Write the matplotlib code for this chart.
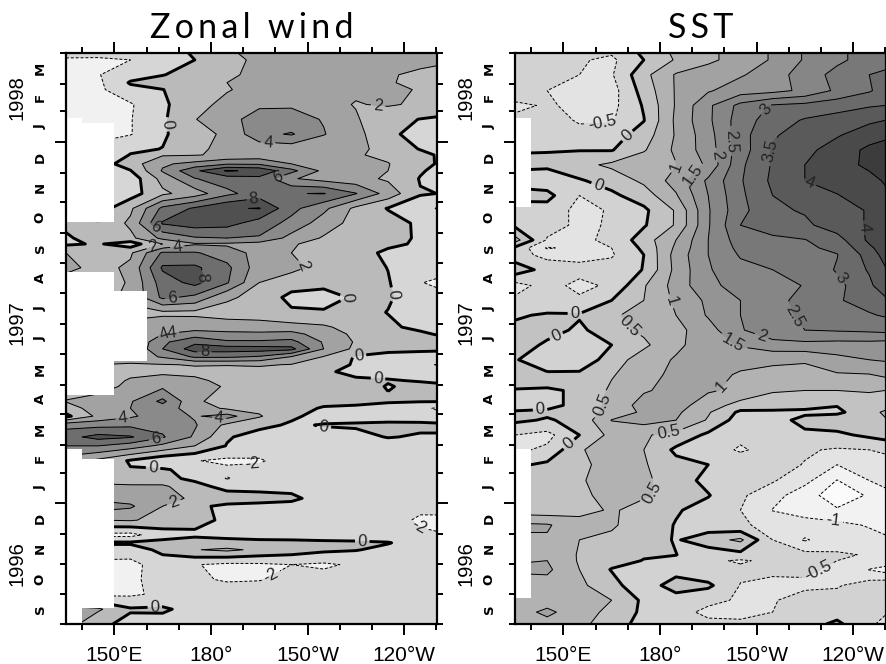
import numpy as np
import matplotlib
matplotlib.use("Agg")
import matplotlib.pyplot as plt
from matplotlib.patches import Rectangle

# longitude in degrees east, time in days since 1 Sep 1996
lons = [135, 145, 155, 165, 175, 185, 195, 205, 215, 225, 235, 245, 250]

wind_days = [0, 15, 30, 45, 60, 75, 82, 90, 105, 119, 127, 139, 147, 156, 165, 180, 189, 201,
             210, 218, 225, 240, 246, 255, 262, 270, 278, 285, 293, 300, 315, 330, 345, 360,
             375, 384, 390, 405, 420, 435, 450, 458, 465, 474, 480, 495, 510, 525, 540, 547,
             555, 570, 577]

wind = [
    [3, .5, -.6, -.8, -1, -1, -1, -1, -1, -1, -1, -1, -1],
    [3, 2.3, .2, .3, -.7, -1.2, -1, -1, -1, -1, -1, -1, -1],
    [-2.5, -2.5, -2.3, -1.6, -1, -1, -1, -1, -1, -1, -1, -1.4, -1.8],
    [-2.5, -2.5, -2.5, -1, -1.7, -2.2, -2.1, -1.5, -1.3, -1.2, -1.1, -1, -1],
    [-2.5, -2.5, -2.6, -1, -1.9, -2.4, -2.3, -2, -2.3, -1.7, -1.2, -1, -1],
    [-1, -1, -1, .5, 1.9, 2.4, 1.6, 1, .4, .1, -.5, -1, -1],
    [.3, .3, .3, .6, .8, .6, .7, .6, .4, .3, .1, -.8, -1],
    [-2.5, -2.5, -2.6, -.9, -.3, -.5, -1, -1, -1, -1, -1, -1.7, -1.9],
    [2, 2, 2.2, 1.3, .5, -.3, -.9, -1.2, -1.1, -1.1, -1.2, -2.3, -2.3],
    [5, 5, 4.3, 2, .3, -.3, -.5, -.6, -.7, -.8, -.9, -1.5, -1.5],
    [3.5, 3.5, 3.2, 2.8, 1.6, .8, .7, .4, -.8, -1, -1, -1, -1],
    [2.5, 2.5, 2.4, 2.4, .5, -.5, -.6, -.6, -.8, -1, -1, -1, -1],
    [1, 1, .5, .4, -.3, -2.1, -1.2, -1, -1, -1, -1, -1, -1],
    [1, 1, .1, .2, -.6, -1.6, -1.5, -1, -1, -1, -1, -1, -1],
    [3, 1.5, -.2, -1.5, -1.9, -2.4, -2.2, -1.2, -1, -1, -1, -1, -1],
    [6, 6, 5, 3.5, 2, -.1, -1, -1.2, -1, -1, -1, -1, -1],
    [7.3, 8.7, 8.2, 6.2, 3.7, .2, -.8, -1, -.7, -.6, .1, -.2, -.2],
    [5.3, 5.4, 5.6, 5.4, 4.2, 1.5, .5, -.25, .1, .25, .4, .4, .4],
    [-.5, 2.5, 3.7, 5, 3.8, 4.8, 2.2, .3, -.6, -.8, -.8, -.9, -1.3],
    [1, 3, 4, 5, 3, 1.7, 1.5, 1.2, -.3, -.4, -.8, -1.5, -2.2],
    [2.1, 3, 3.8, 6.5, 2.2, 1.5, 1.6, 1.3, .9, .5, .2, .1, .1],
    [1, 1, 2.6, 3.6, 2.8, 1.8, 1.2, 1, .8, .7, -.1, .4, .4],
    [1, 1, 2.2, 2.4, 2.3, 1.6, 1.2, .9, .5, .3, .1, -.1, -.3],
    [1, 1, 1.5, 1.8, 1.6, 1.3, 1.4, 1.3, .3, -.5, -.5, -.7, -.8],
    [2, 2, 1.8, 1.9, 2.1, 2.1, 2.2, 1.9, .9, -.2, -.5, -1.2, -2.1],
    [3, 3, 2.9, 4.2, 6.3, 6.3, 5.8, 3.9, 1.9, -.2, -.6, -1, -1],
    [3, 3, 1.8, 6, 9, 9, 8.9, 8.6, 4, 1.5, .5, .5, .4],
    [2, 2, 1.8, 5.6, 7.5, 6.3, 6.3, 6.6, 3.8, 1.8, .8, .8, .8],
    [2, 2, 2, 4, 5, 4.6, 4.5, 4.7, 3, 1.6, 1, .3, -.1],
    [2.3, 2.3, 2.3, 2.8, 3, 2.8, 2.7, 2.7, 2.3, 1.2, .3, -.4, -.8],
    [1.5, 1.5, 1.7, 1.7, 1.6, 1.3, 1.2, .3, .2, .6, -.05, -.8, -1],
    [1.5, 1.5, 2.3, 6.4, 5.5, 2.3, 1.4, -.6, -.8, .3, .2, -1, -1.2],
    [1, 1, 2.2, 7, 8.6, 6.2, 2, 1, .6, 1, .15, -1.9, -2.4],
    [2.6, 1.3, 2.4, 8.3, 8.4, 6.5, 2.9, 2.5, 1.3, 1, -.05, -.8, -.9],
    [2, 1.2, 1.7, 6.3, 6.2, 5, 3.3, 2, 1.4, .6, -.3, -1, -1.1],
    [-.3, .2, -1, 2, 3.8, 3.7, 3.2, 2.2, 1.3, .9, .3, -.2, -.5],
    [-.3, 1, 1.5, 4.5, 5.8, 6, 5.8, 3.3, 1.8, .9, .8, -.3, -.6],
    [.5, .2, 2.4, 8.2, 9, 8.7, 7.1, 5.4, 3, 1.3, .7, -.3, -.3],
    [-1, -1, 1.6, 6.5, 8.3, 9.8, 10.1, 6.6, 4.5, 1.5, -.1, -.7, -2.1],
    [-2, -2, -.9, 1.6, 3, 5.5, 7, 7.9, 8.1, 6.1, 3.2, .1, 0],
    [-2, -2, -1.2, 2.7, 5.9, 7, 7.4, 4.2, 3.2, 2.7, 1.7, -.1, -.5],
    [-2, -2, -.1, 4.2, 7.6, 10.2, 9.6, 6.6, 3.5, 2.5, 2, .2, -.4],
    [-1, -1, 1, 3.7, 4.6, 5.8, 5.7, 4, 2.6, 2.3, 2.1, .4, -.05],
    [-2, -2, .1, 1.8, 1.9, 2.3, 2.7, 2.6, 2.4, 2.2, 1.5, .6, -.1],
    [-1, -1, -.4, .05, 1.7, 2.4, 2.7, 2.8, 2.7, 2.5, 1.3, -.1, -.6],
    [-3, -3, -2.1, -.3, 1.4, 2.3, 5.4, 6.2, 4.1, 2.7, .3, -.5, -.7],
    [-3, -3, -2.1, -.3, 1.9, 3.6, 4.5, 4.6, 3.9, 2.2, .6, -.05, -.3],
    [-3, -3, -2.2, -.4, 1.5, 2.4, 3.8, 3.8, 2.6, 1.9, 2.2, 1.7, 1.5],
    [-2.4, -2.4, -.6, -.05, 1.2, 1.9, 2.5, 2.7, 2.4, 2.3, 2.3, 1.9, 1.5],
    [-3, -2.4, .2, 1.1, 1.5, 2, 2.4, 2.6, 2.4, 2.3, 2.1, 1.7, 1.5],
    [-3, -2.1, -.8, -.1, 1, 1.8, 2.3, 2.3, 2.3, 2.2, 2.1, 1.8, 1.7],
    [-2.2, -2.2, -2, -1, 0, 1.7, 2.2, 2.5, 2.5, 2.5, 2.5, 2.3, 2.2],
    [-1.5, -1.6, -1.5, -.8, .2, 1.9, 2.2, 2.5, 2.7, 2.6, 2.5, 2.3, 2.2],
]

sst_days = [0, 12, 24, 39, 55, 64, 70, 85, 100, 115, 130, 145, 161, 176, 191, 206, 214, 221,
            236, 252, 267, 282, 297, 312, 327, 342, 358, 373, 380, 388, 403, 418, 433, 448,
            464, 479, 494, 509, 524, 539, 555, 570, 577]

sst = [
    [.8, .85, .65, .2, -.15, -.3, -.4, -.4, -.35, -.2, .1, -.4, -.65],
    [.8, 1.1, .75, .35, -.1, -.35, -.6, -.65, -.5, -.3, -.2, -.3, -.45],
    [.7, .8, .75, .5, -.1, -.35, -.4, -.55, -.52, -.4, -.3, -.1, -.05],
    [.7, .8, .6, .2, -.4, .35, .1, -.52, -.6, -.55, -.55, -.25, -.15],
    [1.1, 1.1, .5, -.03, -.15, -.3, -.4, -.4, -.42, -.45, -.55, -1.02, -1.2],
    [.95, 1, .45, .2, -.02, -.1, -.4, -.56, -.38, -.38, -.5, -.6, -.65],
    [.8, .95, .45, .3, .05, .01, -.3, -.15, -.35, -.35, -.45, -.53, -.6],
    [.9, .95, .5, .42, .3, -.05, .3, .6, -.5, -1.05, -.7, -.8, -.95],
    [1.1, 1.05, .7, .55, .3, -.03, -.3, -.45, -.6, -.7, -.85, -1.05, -1.1],
    [.25, .2, .35, .55, .35, .05, -.2, -.5, -1.02, -1.3, -1.45, -1.2, -1.05],
    [.05, .1, .4, .65, .55, .35, .03, -.42, -.8, -1.3, -1.75, -1.45, -1.15],
    [.1, .15, .45, .7, .6, .25, -.15, -.35, -.45, -.85, -1.52, -1, -.85],
    [-.1, .1, .35, .75, .55, .15, 0, -.25, -.35, -.52, -1, -.9, -.75],
    [-.6, -.4, .45, .75, .5, -.1, -.3, -.55, -.35, -.45, -.55, -.5, -.4],
    [-.5, -.65, 0, .65, .55, .35, -.1, -.4, -.4, -.1, -.1, .1, .2],
    [.1, -.05, .15, 1.02, 1.2, 1, .45, -.25, -.2, .15, .3, .4, .45],
    [.05, .1, .25, .65, 1.1, 1.1, .55, -.1, -.08, -.1, -.1, .3, .6],
    [-.2, -.15, .15, .65, 1.2, 1.2, .75, .3, .2, .15, .02, .2, .25],
    [-.02, -.02, .02, .6, .95, 1.15, 1.05, .9, .55, .5, .5, .55, .5],
    [.2, .1, .1, .45, .85, 1.1, 1.15, .95, .85, .85, .95, .98, 1.1],
    [.05, -.4, -.35, .25, .75, 1.05, 1.2, 1.15, 1.1, 1.05, 1.35, 1.5, 1.55],
    [.3, -.1, -.35, 0, .4, .9, 1.25, 1.55, 1.8, 1.85, 1.8, 1.8, 1.75],
    [.1, .2, -.1, .3, .6, .85, 1.3, 1.95, 2.35, 2.5, 2.55, 2.6, 2.65],
    [-.05, .05, .05, .4, .75, 1, 1.55, 2, 2.3, 2.6, 2.85, 2.95, 3.05],
    [-.4, -.3, -.4, 0, .5, 1.1, 1.6, 2, 2.35, 2.65, 2.95, 3.2, 3.4],
    [-.7, -.3, -.65, -.4, .45, 1.2, 1.9, 2.15, 2.35, 2.52, 2.85, 3.4, 3.8],
    [.3, -.2, -.3, -.3, .02, 1.15, 1.95, 2.35, 2.5, 2.6, 3.05, 3.55, 3.95],
    [-.3, -.65, -.7, -.55, 0, 1.2, 2, 2.55, 2.7, 2.85, 2.98, 3.7, 4.2],
    [-.1, -1.05, -.85, -.5, .1, 1.1, 2, 2.65, 2.8, 2.92, 3.1, 3.9, 4.25],
    [.7, -.55, -.6, -.4, .25, 1, 2, 2.75, 2.93, 2.98, 3.3, 4.1, 4.3],
    [-.1, -.3, -.6, -.45, -.05, .55, 1.95, 3, 3.15, 3.4, 3.75, 4.05, 4.2],
    [-.3, -.2, -.65, -.45, -.1, .55, 1.95, 2.85, 3.4, 3.55, 3.75, 4.05, 4.15],
    [.2, .15, -.5, -.1, .25, .95, 2, 2.9, 3.5, 3.75, 3.98, 4.2, 4.4],
    [-.2, -.3, -.05, .2, .6, 1.2, 2.1, 2.95, 3.6, 4, 4.15, 4.35, 4.55],
    [.1, .1, .35, .6, .85, .98, 1.6, 2.9, 3.55, 4, 4.3, 4.6, 4.8],
    [-.03, -.02, -.02, -.03, .45, 1.1, 1.75, 2.75, 3.55, 3.85, 4.25, 4.6, 4.7],
    [-.5, -.4, -.35, -.25, .25, 1.05, 1.8, 2.8, 3.45, 3.7, 3.95, 4.3, 4.4],
    [-.4, -.3, -.55, -.55, -.02, 1.1, 1.9, 2.75, 3.25, 3.55, 3.7, 3.9, 4],
    [-.6, -.45, -.6, -.65, .05, 1.05, 1.9, 2.65, 3.05, 3.15, 3.3, 3.45, 3.5],
    [-.2, -.5, -.7, -.7, .2, 1.05, 1.45, 1.75, 1.85, 2.1, 2.6, 2.95, 3.2],
    [-.2, -.3, -.5, -.55, .35, 1.05, 1.25, 1.45, 1.75, 2.25, 2.65, 3, 3.1],
    [-.2, -.2, -.45, -.6, 0, .55, .9, 1.2, 1.55, 2.05, 2.4, 2.7, 2.8],
    [-.2, -.2, -.4, -.45, .1, .6, .9, 1.2, 1.55, 2.05, 2.4, 2.7, 2.8],
]

wind_levels = [-2, 0, 2, 4, 6, 8, 10]
wind_fill = [-20, -2, 0, 2, 4, 6, 8, 10, 20]
wind_grays = ["#f1f1f1", "#d6d6d6", "#bababa", "#a2a2a2", "#8a8a8a", "#6e6e6e", "#505050", "#3a3a3a"]

sst_levels = [-1.5, -1, -.5, 0, .5, 1, 1.5, 2, 2.5, 3, 3.5, 4, 4.5]
sst_fill = [-5, -1.5, -1, -.5, 0, .5, 1, 1.5, 2, 2.5, 3, 3.5, 4, 4.5, 9]
sst_grays = ["#fbfbfb", "#f2f2f2", "#e3e3e3", "#d2d2d2", "#c2c2c2", "#b2b2b2", "#a2a2a2", "#949494",
             "#868686", "#787878", "#6a6a6a", "#5a5a5a", "#4a4a4a", "#3c3c3c"]

# blocks with no data: lon0, lon1, day0, day1
wind_missing = [(135, 140, 406, 511), (135, 140, 231, 356), (135, 140, 0, 177),
                (140, 150, 406, 506), (140, 150, 231, 356), (140, 150, 16, 167),
                (150, 160, 266, 336)]
sst_missing = [(135, 140, 421, 511), (135, 140, 26, 177)]

# month starts, axis runs 1 Sep 1996 - 1 Apr 1998
month_ticks = [0, 30, 61, 91, 122, 153, 181, 212, 242, 273, 303, 334, 365, 395, 426, 456, 487, 518, 546, 577]
month_names = ["S", "O", "N", "D", "J", "F", "M", "A", "M", "J", "J", "A", "S", "O", "N", "D", "J", "F", "M"]
year_ticks = [122, 487]
year_labels = [("1996", 61), ("1997", 305), ("1998", 532)]

lon_major = [150, 180, 210, 240]
lon_labels = ["150°E", "180°", "150°W", "120°W"]
lon_minor = [140, 160, 170, 190, 200, 220, 230, 250]

wind_clabels = [(163.3, 504), (197.7, 485), (232, 527), (200.5, 453), (193, 438), (163.3, 403), (162, 383),
                (169.5, 383), (177.5, 350), (209, 363), (168, 327), (222.6, 329), (236.5, 333), (167.6, 302),
                (167.6, 294), (178, 275), (226, 271), (232, 254), (182.5, 207), (152.7, 206), (163, 186),
                (215, 195), (193, 161), (162, 156), (168.5, 123), (245, 100), (227, 85), (198, 52.5),
                (162.6, 15)]
sst_clabels = [(162, 505), (171.3, 489), (213.3, 519), (201.8, 488), (198, 474), (215, 478), (190.3, 454),
               (187, 457), (161.4, 448), (225.7, 440), (242, 400), (233.8, 344), (222, 312), (182.5, 325),
               (153.6, 315), (170, 300), (147.4, 294), (211.7, 292), (201.8, 280), (198.7, 241),
               (160.5, 223), (142.8, 216), (152, 181), (183, 186), (178, 132), (233.8, 107), (229.7, 49)]


def spaced(text):
    return "\u200a\u200a".join(text)


def draw_panel(ax, days, values, levels, fill, grays, missing, clabels, title):
    z = np.array(values)
    ax.contourf(lons, days, z, levels=fill, colors=grays)
    widths = [2.1 if v == 0 else 0.7 for v in levels]
    styles = [(0, (3, 2)) if v < 0 else "solid" for v in levels]
    cs = ax.contour(lons, days, z, levels=levels, colors="k", linewidths=widths, linestyles=styles)
    for lon0, lon1, day0, day1 in missing:
        ax.add_patch(Rectangle((lon0, day0), lon1 - lon0, day1 - day0, fc="white", ec="none", zorder=3))
    ax.set_xlim(135, 250.2)
    ax.set_ylim(0, 577)
    ax.clabel(cs, manual=clabels, fmt="%g", fontsize=12, inline=True, inline_spacing=2)
    for t in cs.labelTexts:
        t.set_fontfamily("Liberation Sans")
        t.set_color("#222222")

    ax.set_xticks(lon_major)
    ax.set_xticklabels(lon_labels, fontsize=15, family="Liberation Sans")
    ax.set_xticks(lon_minor, minor=True)
    ax.set_yticks(year_ticks)
    ax.set_yticklabels([])
    ax.set_yticks(month_ticks, minor=True)
    ax.tick_params(axis="both", which="both", direction="out", top=True, right=True, width=1.4)
    ax.tick_params(axis="x", which="major", length=8, pad=8)
    ax.tick_params(axis="x", which="minor", length=4)
    ax.tick_params(axis="y", which="major", length=8)
    ax.tick_params(axis="y", which="minor", length=4)
    for s in ax.spines.values():
        s.set_linewidth(1.6)
        s.set_zorder(5)

    tr = ax.get_yaxis_transform()
    for i, name in enumerate(month_names):
        mid = (month_ticks[i] + month_ticks[i + 1]) / 2
        ax.text(-0.07, mid, name, transform=tr, rotation=90, fontsize=9.5, fontweight="bold",
                ha="center", va="center")
    for text, day in year_labels:
        ax.text(-0.133, day, text, transform=tr, rotation=90, fontsize=14.5, family="Liberation Sans",
                ha="center", va="center")
    ax.set_title(spaced(title), fontsize=24.5, pad=11, family=["Lato", "DejaVu Sans"], fontweight="normal")


fig = plt.figure(figsize=(8.86, 6.64), dpi=100)
ax1 = fig.add_axes([66 / 886, 1 - 624 / 664, 371 / 886, 571 / 664])
ax2 = fig.add_axes([515 / 886, 1 - 624 / 664, 371 / 886, 571 / 664])

draw_panel(ax1, wind_days, wind, wind_levels, wind_fill, wind_grays, wind_missing, wind_clabels, "Zonal wind")
draw_panel(ax2, sst_days, sst, sst_levels, sst_fill, sst_grays, sst_missing, sst_clabels, "SST")

fig.savefig("out.png", dpi=100)
